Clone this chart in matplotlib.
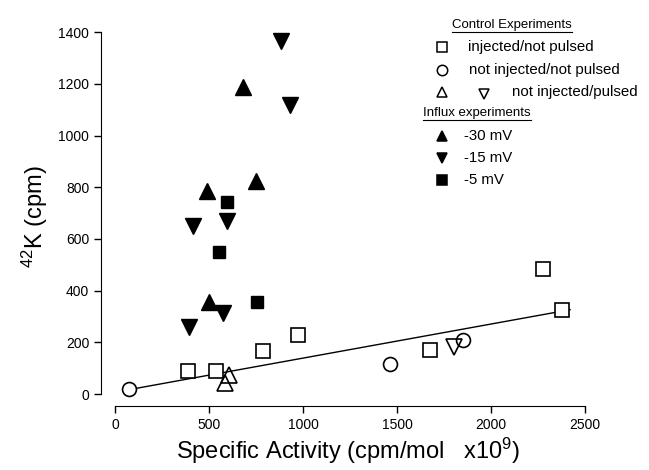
import numpy as np
import matplotlib
matplotlib.use('Agg')
import matplotlib.pyplot as plt

plt.rcParams['font.family'] = ['Liberation Sans', 'DejaVu Sans']
plt.rcParams['mathtext.fontset'] = 'custom'
plt.rcParams['mathtext.rm'] = 'Liberation Sans'
plt.rcParams['mathtext.it'] = 'Liberation Sans'

# control experiments
inj_np_x = [388, 537, 787, 974, 1676, 2277, 2378]
inj_np_y = [90, 90, 167, 228, 170, 483, 325]
ninj_np_x = [75, 1463, 1851]
ninj_np_y = [19, 116, 209]
ninj_p_up_x = [585, 606]
ninj_p_up_y = [43, 73]
ninj_p_dn_x = [1803]
ninj_p_dn_y = [182]

# influx experiments
mv30_x = [681, 750, 489, 500]
mv30_y = [1187, 824, 785, 356]
mv15_x = [883, 931, 415, 596, 574, 394]
mv15_y = [1365, 1118, 650, 669, 313, 260]
mv5_x = [596, 553, 755]
mv5_y = [743, 548, 356]

# regression line through control data
fit_x = [80, 2420]
fit_slope = 0.1318
fit_icpt = 7.5

fig = plt.figure(figsize=(6.49, 4.70), dpi=100)
ax = fig.add_axes([101 / 649, 1 - 406 / 470, (596 - 101) / 649, (406 - 27) / 470])

fx = np.array(fit_x)
ax.plot(fx, fit_slope * fx + fit_icpt, color='black', lw=1.0, zorder=1)

ms = 10
ax.plot(inj_np_x, inj_np_y, 's', ms=ms, mfc='white', mec='black', mew=1.2, ls='none')
ax.plot(ninj_np_x, ninj_np_y, 'o', ms=ms, mfc='white', mec='black', mew=1.2, ls='none')
ax.plot(ninj_p_up_x, ninj_p_up_y, '^', ms=ms + 1, mfc='none', mec='black', mew=1.2, ls='none')
ax.plot(ninj_p_dn_x, ninj_p_dn_y, 'v', ms=ms + 1, mfc='none', mec='black', mew=1.2, ls='none')
ax.plot(mv30_x, mv30_y, '^', ms=ms + 1, color='black', ls='none')
ax.plot(mv15_x, mv15_y, 'v', ms=ms + 1, color='black', ls='none')
ax.plot(mv5_x, mv5_y, 's', ms=ms - 1, color='black', ls='none')

ax.set_xlim(-75, 2558)
ax.set_ylim(-46, 1420)
ax.spines['top'].set_visible(False)
ax.spines['right'].set_visible(False)
ax.spines['left'].set_bounds(0, 1400)
ax.spines['bottom'].set_bounds(0, 2500)
ax.set_xticks(np.arange(0, 2501, 500))
ax.set_yticks(np.arange(0, 1401, 200))
ax.tick_params(direction='out', length=5, width=1, labelsize=10)

ax.set_xlabel('Specific Activity (cpm/mol   x10$^9$)', fontsize=17, labelpad=3)
ax.set_ylabel('$^{42}$K (cpm)', fontsize=17, labelpad=6)


# hand-drawn legend in the top right corner
def px(x, y):
    return x / 649, 1 - y / 470


def header(x, y, s):
    t = fig.text(*px(x, y), s, fontsize=9.5, va='center', ha='left')
    fig.canvas.draw()
    bb = t.get_window_extent().transformed(fig.transFigure.inverted())
    fig.add_artist(plt.Line2D([bb.x0, bb.x1], [bb.y0 - 0.002, bb.y0 - 0.002],
                              color='black', lw=0.8, transform=fig.transFigure))


def entry(x, y, marker, filled, ms_=7.5):
    fig.add_artist(plt.Line2D([x / 649], [1 - y / 470], marker=marker, ms=ms_,
                              mfc='black' if filled else 'white', mec='black', mew=1.1,
                              ls='none', transform=fig.transFigure))


fs = 10.8
header(452, 25, 'Control Experiments')
entry(442, 47, 's', False)
fig.text(*px(468, 47), 'injected/not pulsed', fontsize=fs, va='center')
entry(442, 70, 'o', False)
fig.text(*px(469, 70), 'not injected/not pulsed', fontsize=fs, va='center')
entry(442, 92, '^', False)
entry(484, 94, 'v', False)
fig.text(*px(512, 92), 'not injected/pulsed', fontsize=fs, va='center')
header(423, 113, 'Influx experiments')
entry(442, 136, '^', True)
fig.text(*px(464, 136), '-30 mV', fontsize=fs, va='center')
entry(442, 158, 'v', True)
fig.text(*px(464, 158), '-15 mV', fontsize=fs, va='center')
entry(442, 180, 's', True, 6.5)
fig.text(*px(464, 180), '-5 mV', fontsize=fs, va='center')

fig.savefig('out.png', dpi=100)
